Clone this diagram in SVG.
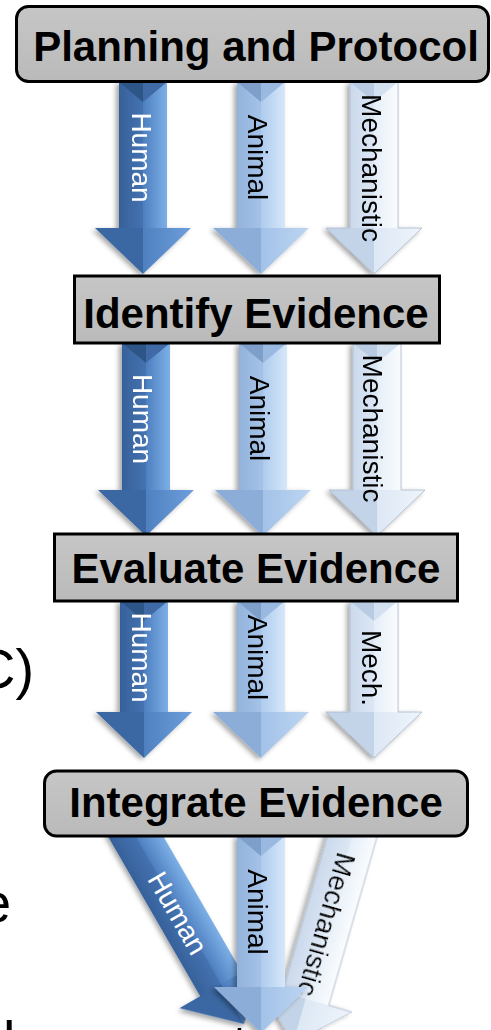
<svg xmlns="http://www.w3.org/2000/svg" width="491" height="1030" viewBox="0 0 491 1030">
<defs>
<filter id="sh" x="-40%" y="-10%" width="170%" height="130%"><feDropShadow dx="-3" dy="2" stdDeviation="2.5" flood-color="#000" flood-opacity="0.35"/></filter>
<linearGradient id="gHSL" x1="0" x2="1" y1="0" y2="0"><stop offset="0" stop-color="#36619a"/><stop offset="1" stop-color="#4572b0"/></linearGradient>
<linearGradient id="gHSR" x1="0" x2="1" y1="0" y2="0"><stop offset="0" stop-color="#4d7fc0"/><stop offset="1" stop-color="#7dafe6"/></linearGradient>
<linearGradient id="gHHR" x1="0" x2="1" y1="0" y2="0"><stop offset="0" stop-color="#4f80c0"/><stop offset="1" stop-color="#6d9fdb"/></linearGradient>
<linearGradient id="gASL" x1="0" x2="1" y1="0" y2="0"><stop offset="0" stop-color="#93b3dc"/><stop offset="1" stop-color="#a5c2e7"/></linearGradient>
<linearGradient id="gASR" x1="0" x2="1" y1="0" y2="0"><stop offset="0" stop-color="#aecbee"/><stop offset="1" stop-color="#d6e7f9"/></linearGradient>
<linearGradient id="gAHR" x1="0" x2="1" y1="0" y2="0"><stop offset="0" stop-color="#a3c2e8"/><stop offset="1" stop-color="#bcd5f2"/></linearGradient>
<linearGradient id="gMSL" x1="0" x2="1" y1="0" y2="0"><stop offset="0" stop-color="#cbd9ec"/><stop offset="1" stop-color="#dce7f4"/></linearGradient>
<linearGradient id="gMSR" x1="0" x2="1" y1="0" y2="0"><stop offset="0" stop-color="#e5eef8"/><stop offset="1" stop-color="#fafcfe"/></linearGradient>
<linearGradient id="gMHR" x1="0" x2="1" y1="0" y2="0"><stop offset="0" stop-color="#dde8f5"/><stop offset="1" stop-color="#eef4fb"/></linearGradient>
<linearGradient id="gBox" x1="0" x2="0" y1="0" y2="1"><stop offset="0" stop-color="#c6c6c6"/><stop offset="1" stop-color="#bababa"/></linearGradient>
</defs>
<style>
.hSL{fill:url(#gHSL)}.hSR{fill:url(#gHSR)}.hHL{fill:#3b68a3}.hHR{fill:url(#gHHR)}.hCL{fill:#2e5488}.hCR{fill:#3f6ba6}
.aSL{fill:url(#gASL)}.aSR{fill:url(#gASR)}.aHL{fill:#8badd8}.aHR{fill:url(#gAHR)}.aCL{fill:#7f9fcb}.aCR{fill:#9ab9e0}
.mSL{fill:url(#gMSL)}.mSR{fill:url(#gMSR)}.mHL{fill:#c3d4e9}.mHR{fill:url(#gMHR)}.mCL{fill:#b9cbe2}.mCR{fill:#d3e0f0}
.arrow{filter:url(#sh)}
.edge{fill:none;stroke:#a9b8cb;stroke-width:0.8}
.lbl{font-family:"Liberation Sans",Arial,sans-serif;font-size:28px;text-anchor:middle}
.wh{fill:#ffffff}.bk{fill:#000000}
.box{fill:url(#gBox);stroke:#000;stroke-width:3}
.btxt{font-family:"Liberation Sans",Arial,sans-serif;font-size:42px;font-weight:bold;text-anchor:middle;fill:#000}
.side{font-family:"Liberation Sans",Arial,sans-serif;font-size:56px;fill:#000}
</style>

<g id="connectors">
  <!-- Set 1 -->
  <g id="arrow1-human" class="arrow">
    <rect class="hSL" x="119" y="82" width="24" height="146"/><rect class="hSR" x="143" y="82" width="24" height="146"/>
    <polygon class="hCL" points="119,82 143,82 143,102"/><polygon class="hCR" points="143,82 167,82 143,102"/>
    <polygon class="hHL" points="95,228 143,228 143,274"/><polygon class="hHR" points="143,228 191,228 143,274"/>
    <text class="lbl wh" transform="translate(142,157.5) rotate(90)" y="10">Human</text>
  </g>
  <g id="arrow1-animal" class="arrow">
    <rect class="aSL" x="237" y="82" width="24" height="146"/><rect class="aSR" x="261" y="82" width="24" height="146"/>
    <polygon class="aCL" points="237,82 261,82 261,102"/><polygon class="aCR" points="261,82 285,82 261,102"/>
    <polygon class="aHL" points="213,228 261,228 261,274"/><polygon class="aHR" points="261,228 309,228 261,274"/>
    <text class="lbl bk" transform="translate(258,157.5) rotate(90)" y="10">Animal</text>
  </g>
  <g id="arrow1-mech" class="arrow">
    <rect class="mSL" x="350" y="82" width="24" height="146"/><rect class="mSR" x="374" y="82" width="24" height="146"/>
    <polygon class="mCL" points="350,82 374,82 374,102"/><polygon class="mCR" points="374,82 398,82 374,102"/>
    <polygon class="mHL" points="326,228 374,228 374,274"/><polygon class="mHR" points="374,228 422,228 374,274"/>
    <path class="edge" d="M350,82 V228 H326 L374,274 L422,228 H398 V82"/>
    <text class="lbl bk" transform="translate(372,168) rotate(90)" y="10">Mechanistic</text>
  </g>

  <!-- Set 2 -->
  <g id="arrow2-human" class="arrow">
    <rect class="hSL" x="122" y="343" width="24" height="147"/><rect class="hSR" x="146" y="343" width="24" height="147"/>
    <polygon class="hCL" points="122,343 146,343 146,363"/><polygon class="hCR" points="146,343 170,343 146,363"/>
    <polygon class="hHL" points="98,490 146,490 146,536"/><polygon class="hHR" points="146,490 194,490 146,536"/>
    <text class="lbl wh" transform="translate(143,419) rotate(90)" y="10">Human</text>
  </g>
  <g id="arrow2-animal" class="arrow">
    <rect class="aSL" x="239" y="343" width="24" height="147"/><rect class="aSR" x="263" y="343" width="24" height="147"/>
    <polygon class="aCL" points="239,343 263,343 263,363"/><polygon class="aCR" points="263,343 287,343 263,363"/>
    <polygon class="aHL" points="215,490 263,490 263,536"/><polygon class="aHR" points="263,490 311,490 263,536"/>
    <text class="lbl bk" transform="translate(260,418.5) rotate(90)" y="10">Animal</text>
  </g>
  <g id="arrow2-mech" class="arrow">
    <rect class="mSL" x="353" y="343" width="24" height="147"/><rect class="mSR" x="377" y="343" width="24" height="147"/>
    <polygon class="mCL" points="353,343 377,343 377,363"/><polygon class="mCR" points="377,343 401,343 377,363"/>
    <polygon class="mHL" points="329,490 377,490 377,536"/><polygon class="mHR" points="377,490 425,490 377,536"/>
    <path class="edge" d="M353,343 V490 H329 L377,536 L425,490 H401 V343"/>
    <text class="lbl bk" transform="translate(373,428.5) rotate(90)" y="10">Mechanistic</text>
  </g>

  <!-- Set 3 -->
  <g id="arrow3-human" class="arrow">
    <rect class="hSL" x="120" y="601" width="24" height="111"/><rect class="hSR" x="144" y="601" width="24" height="111"/>
    <polygon class="hCL" points="120,601 144,601 144,621"/><polygon class="hCR" points="144,601 168,601 144,621"/>
    <polygon class="hHL" points="96,712 144,712 144,758"/><polygon class="hHR" points="144,712 192,712 144,758"/>
    <text class="lbl wh" transform="translate(142,657.5) rotate(90)" y="10">Human</text>
  </g>
  <g id="arrow3-animal" class="arrow">
    <rect class="aSL" x="237" y="601" width="24" height="111"/><rect class="aSR" x="261" y="601" width="24" height="111"/>
    <polygon class="aCL" points="237,601 261,601 261,621"/><polygon class="aCR" points="261,601 285,601 261,621"/>
    <polygon class="aHL" points="213,712 261,712 261,758"/><polygon class="aHR" points="261,712 309,712 261,758"/>
    <text class="lbl bk" transform="translate(258,657.5) rotate(90)" y="10">Animal</text>
  </g>
  <g id="arrow3-mech" class="arrow">
    <rect class="mSL" x="350" y="601" width="24" height="111"/><rect class="mSR" x="374" y="601" width="24" height="111"/>
    <polygon class="mCL" points="350,601 374,601 374,621"/><polygon class="mCR" points="374,601 398,601 374,621"/>
    <polygon class="mHL" points="326,712 374,712 374,758"/><polygon class="mHR" points="374,712 422,712 374,758"/>
    <path class="edge" d="M350,601 V712 H326 L374,758 L422,712 H398 V601"/>
    <text class="lbl bk" transform="translate(372,668) rotate(90)" y="10">Mech.</text>
  </g>

  <!-- Set 4: converging -->
  <g id="arrow4-human" class="arrow" transform="translate(244,1024) rotate(-30)">
    <rect class="hSL" x="-24" y="-235" width="24" height="189"/><rect class="hSR" x="0" y="-235" width="24" height="189"/>
    <polygon class="hHL" points="-48,-46 0,-46 0,0"/><polygon class="hHR" points="0,-46 48,-46 0,0"/>
  </g>
  <text id="label4-human" class="lbl wh" transform="translate(178,913) rotate(60)" y="10">Human</text>
  <g id="arrow4-mech" class="arrow" transform="translate(293,1043) rotate(16)">
    <rect class="mSL" x="-24" y="-228" width="24" height="182"/><rect class="mSR" x="0" y="-228" width="24" height="182"/>
    <polygon class="mHL" points="-48,-46 0,-46 0,0"/><polygon class="mHR" points="0,-46 48,-46 0,0"/>
    <path class="edge" d="M-24,-228 V-46 H-48 L0,0 L48,-46 H24 V-228"/>
    <text class="lbl bk" transform="translate(0,-123) rotate(90)" y="10">Mechanistic</text>
  </g>
  <g id="arrow4-animal" class="arrow">
    <rect class="aSL" x="237" y="836" width="24" height="151"/><rect class="aSR" x="261" y="836" width="24" height="151"/>
    <polygon class="aCL" points="237,836 261,836 261,856"/><polygon class="aCR" points="261,836 285,836 261,856"/>
    <polygon class="aHL" points="214,987 261,987 261,1033"/><polygon class="aHR" points="261,987 308,987 261,1033"/>
    <text class="lbl bk" transform="translate(258,912) rotate(90)" y="10">Animal</text>
  </g>
</g>

<g id="node-planning">
  <rect class="box" x="16.5" y="6.5" width="472" height="75" rx="12"/>
  <text class="btxt" x="256" y="61">Planning and Protocol</text>
</g>
<g id="node-identify">
  <rect class="box" x="74.5" y="276" width="365" height="67"/>
  <text class="btxt" x="256" y="328">Identify Evidence</text>
</g>
<g id="node-evaluate">
  <rect class="box" x="54.5" y="534" width="403" height="67"/>
  <text class="btxt" x="256" y="583">Evaluate Evidence</text>
</g>
<g id="node-integrate">
  <rect class="box" x="44.5" y="771" width="423" height="65" rx="12"/>
  <text class="btxt" x="256" y="817">Integrate Evidence</text>
</g>

<g id="side-text">
  <text class="side" x="-25" y="688">C)</text>
  <text class="side" x="-20" y="922">e</text>
  <text class="side" x="3" y="1060">l</text>
  <text class="side" x="232" y="1064">t</text>
</g>
</svg>
